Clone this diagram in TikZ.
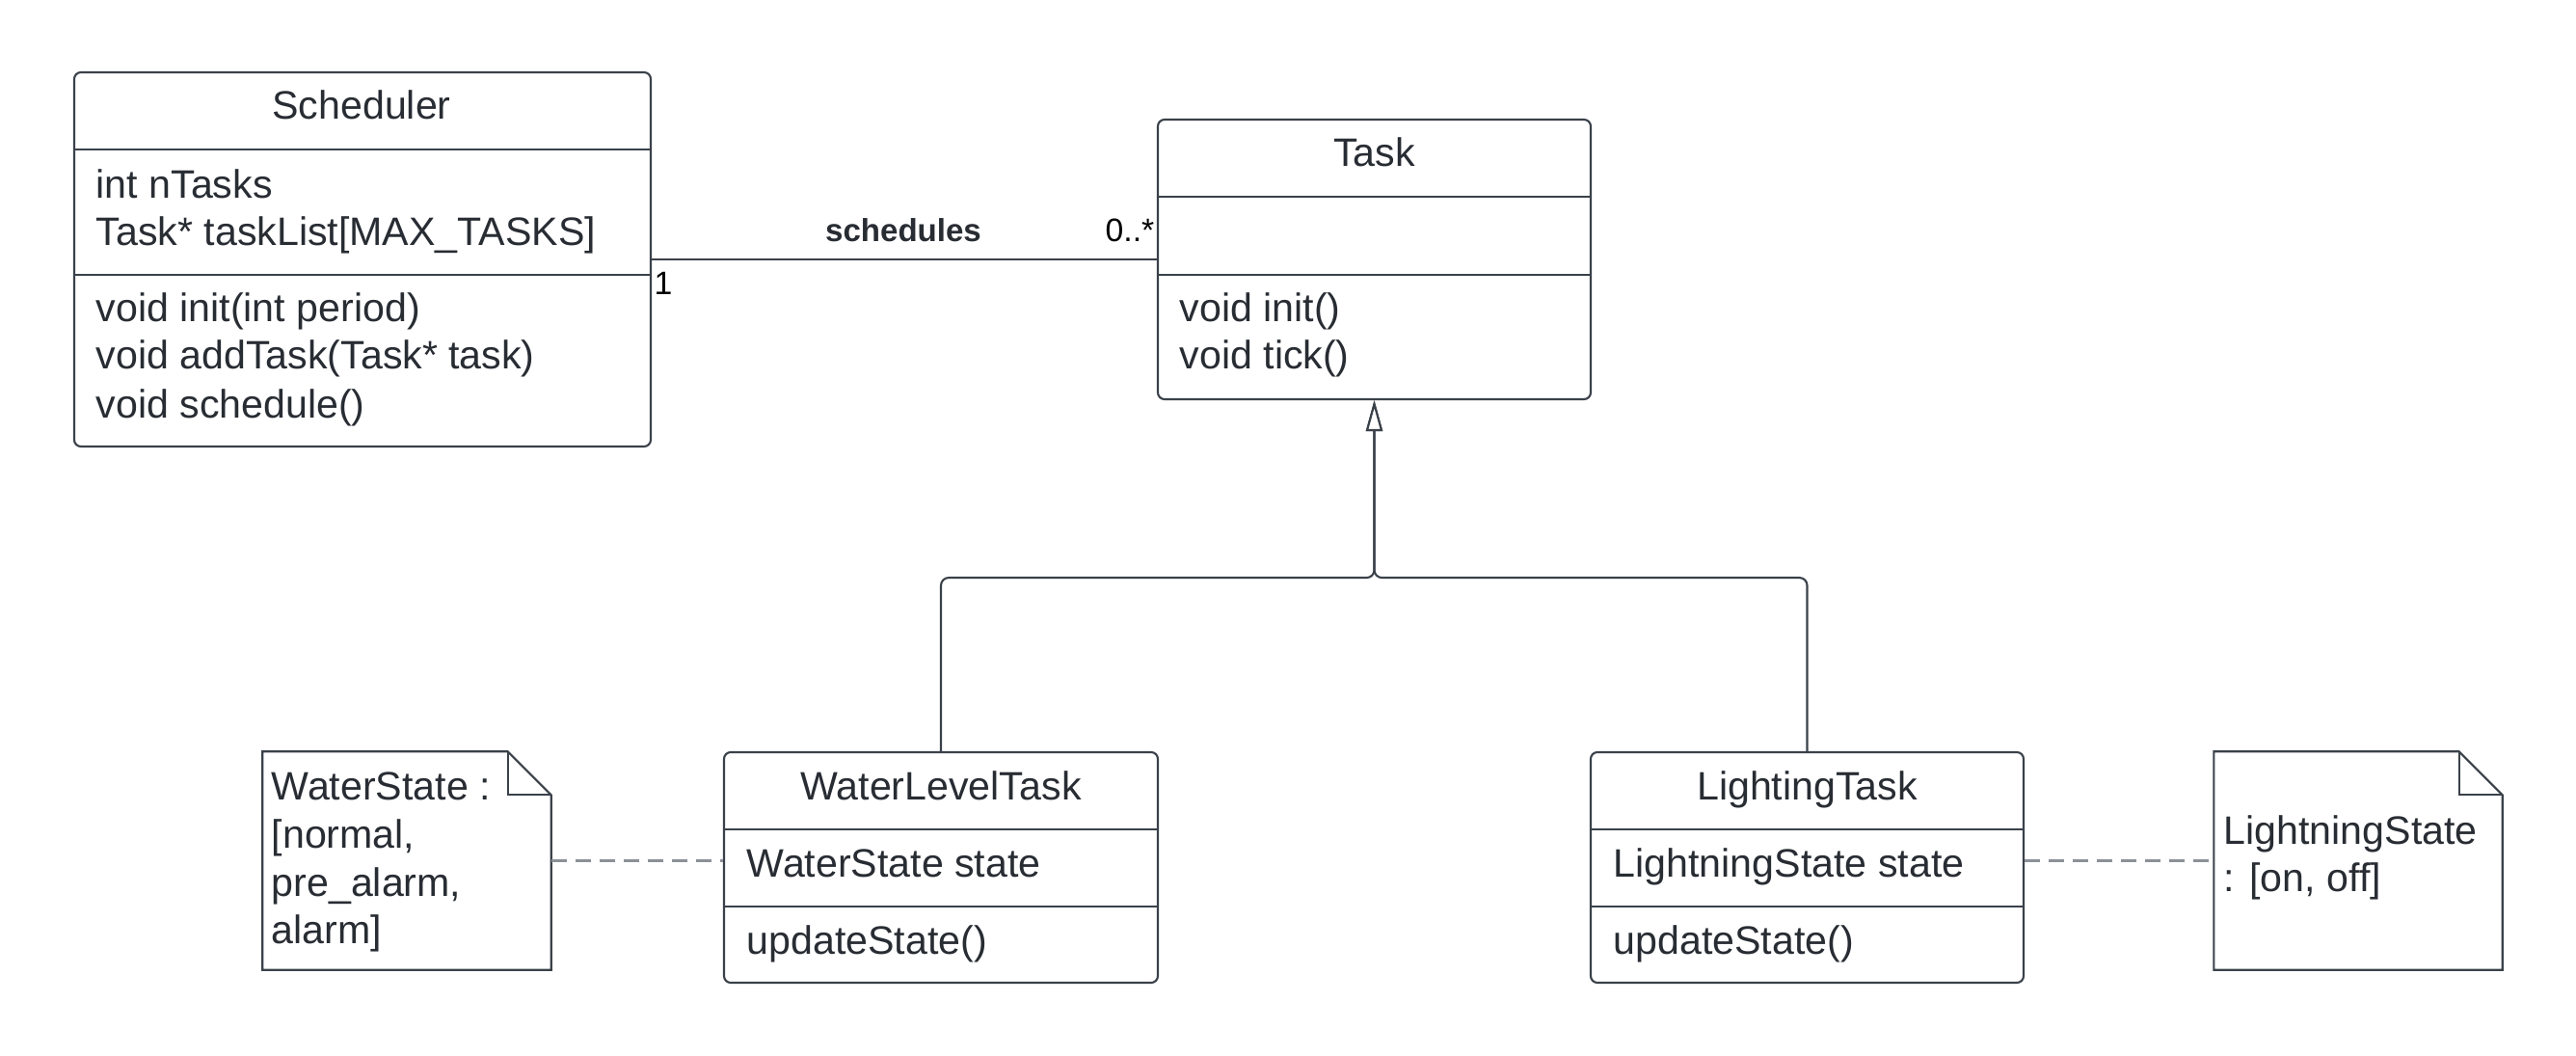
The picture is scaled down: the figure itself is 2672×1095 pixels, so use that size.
\documentclass[tikz,border=0pt]{standalone}
\usepackage{fontspec}
\setmainfont{Liberation Sans}
\usetikzlibrary{arrows.meta,fit,calc}
\definecolor{lc}{HTML}{3A414A}
\definecolor{tc}{HTML}{282C33}
\definecolor{dc}{HTML}{8C9097}
\begin{document}
\begin{tikzpicture}[x=0.01cm,y=-0.01cm,
  box/.style={draw=lc, line width=0.6pt, rounded corners=0.07cm, inner sep=0pt},
  notebox/.style={inner sep=0pt},
  sep/.style={draw=lc, line width=0.6pt},
  txt/.style={inner sep=0pt, text=tc, font=\fontsize{11.7}{14}\selectfont},
  lbl/.style={inner sep=0pt, text=tc, font=\fontsize{9.6}{11}\selectfont},
  assoc/.style={draw=lc, line width=0.6pt},
  gen/.style={draw=lc, line width=0.6pt, rounded corners=0.08cm, -{Triangle[open, length=0.32cm, width=0.17cm, fill=white]}},
  dep/.style={draw=dc, line width=0.6pt, dash pattern=on 0.16cm off 0.09cm},
]
\useasboundingbox (0,0) rectangle (2672,1095);

% Scheduler
\node[box, fit={(77,75) (675,463)}] (sch) {};
\draw[sep] (77,155) -- (675,155);
\draw[sep] (77,285) -- (675,285);
\node[txt, anchor=base] (schT) at (375,124) {Scheduler};
\node[txt, anchor=base west] (schA1) at (99,206) {int nTasks};
\node[txt, anchor=base west] (schA2) at (99,255) {Task* taskList[MAX\_TASKS]};
\node[txt, anchor=base west] (schM1) at (99,334) {void init(int period)};
\node[txt, anchor=base west] (schM2) at (99,383) {void addTask(Task* task)};
\node[txt, anchor=base west] (schM3) at (99,434) {void schedule()};

% Task
\node[box, fit={(1201,124) (1650,414)}] (task) {};
\draw[sep] (1201,204) -- (1650,204);
\draw[sep] (1201,285) -- (1650,285);
\node[txt, anchor=base] (taskT) at (1425.5,173) {Task};
\node[txt, anchor=base west] (taskM1) at (1223,334) {void init()};
\node[txt, anchor=base west] (taskM2) at (1223,383) {void tick()};

% WaterLevelTask
\node[box, fit={(751,780) (1201,1019)}] (wl) {};
\draw[sep] (751,860) -- (1201,860);
\draw[sep] (751,940) -- (1201,940);
\node[txt, anchor=base] (wlT) at (976,830) {WaterLevelTask};
\node[txt, anchor=base west] (wlA) at (774,910) {WaterState state};
\node[txt, anchor=base west] (wlM) at (774,990) {updateState()};

% LightingTask
\node[box, fit={(1650,780) (2099,1019)}] (lt) {};
\draw[sep] (1650,860) -- (2099,860);
\draw[sep] (1650,940) -- (2099,940);
\node[txt, anchor=base] (ltT) at (1874.5,830) {LightingTask};
\node[txt, anchor=base west] (ltA) at (1673,910) {LightningState state};
\node[txt, anchor=base west] (ltM) at (1673,990) {updateState()};

% WaterState note
\node[notebox, fit={(273,780) (571,1005)}] (wnote) {};
\draw[sep] (wnote.north west) -- ($(wnote.north east)+(-45,0)$) -- ($(wnote.north east)+(0,45)$) -- (wnote.south east) -- (wnote.south west) -- cycle;
\draw[sep] ($(wnote.north east)+(-45,0)$) -- ++(0,45) -- ++(45,0);
\node[txt, anchor=base west] (wn1) at (281,830) {WaterState :};
\node[txt, anchor=base west] (wn2) at (281,880) {[normal,};
\node[txt, anchor=base west] (wn3) at (281,930) {pre\_alarm,};
\node[txt, anchor=base west] (wn4) at (281,979) {alarm]};

% LightningState note
\node[notebox, fit={(2297,780) (2595,1005)}] (lnote) {};
\draw[sep] (lnote.north west) -- ($(lnote.north east)+(-45,0)$) -- ($(lnote.north east)+(0,45)$) -- (lnote.south east) -- (lnote.south west) -- cycle;
\draw[sep] ($(lnote.north east)+(-45,0)$) -- ++(0,45) -- ++(45,0);
\node[txt, anchor=base west] (ln1) at (2306,876) {LightningState};
\node[txt, anchor=base west] (ln2) at (2306,925) {: [on, off]};

% Association
\draw[assoc] (sch.east) -- (task.west);
\node[lbl, anchor=base, font=\fontsize{9.4}{11}\selectfont\bfseries] (asc) at (937,251) {schedules};
\node[lbl, anchor=base east, text=black] (m1) at (1198,251) {0..*};
\node[lbl, anchor=base west, text=black] (m2) at (678,306) {1};

% Generalization
\path (task.south) ++(0,184) coordinate (j);
\draw[gen] (wl.north) |- (j) -- (task.south);
\draw[gen] (lt.north) |- (j) -- (task.south);

% Note links
\draw[dep] (wnote.east) -- (wnote.east -| wl.west);
\draw[dep] (lnote.west -| lt.east) -- (lnote.west);
\end{tikzpicture}
\end{document}
